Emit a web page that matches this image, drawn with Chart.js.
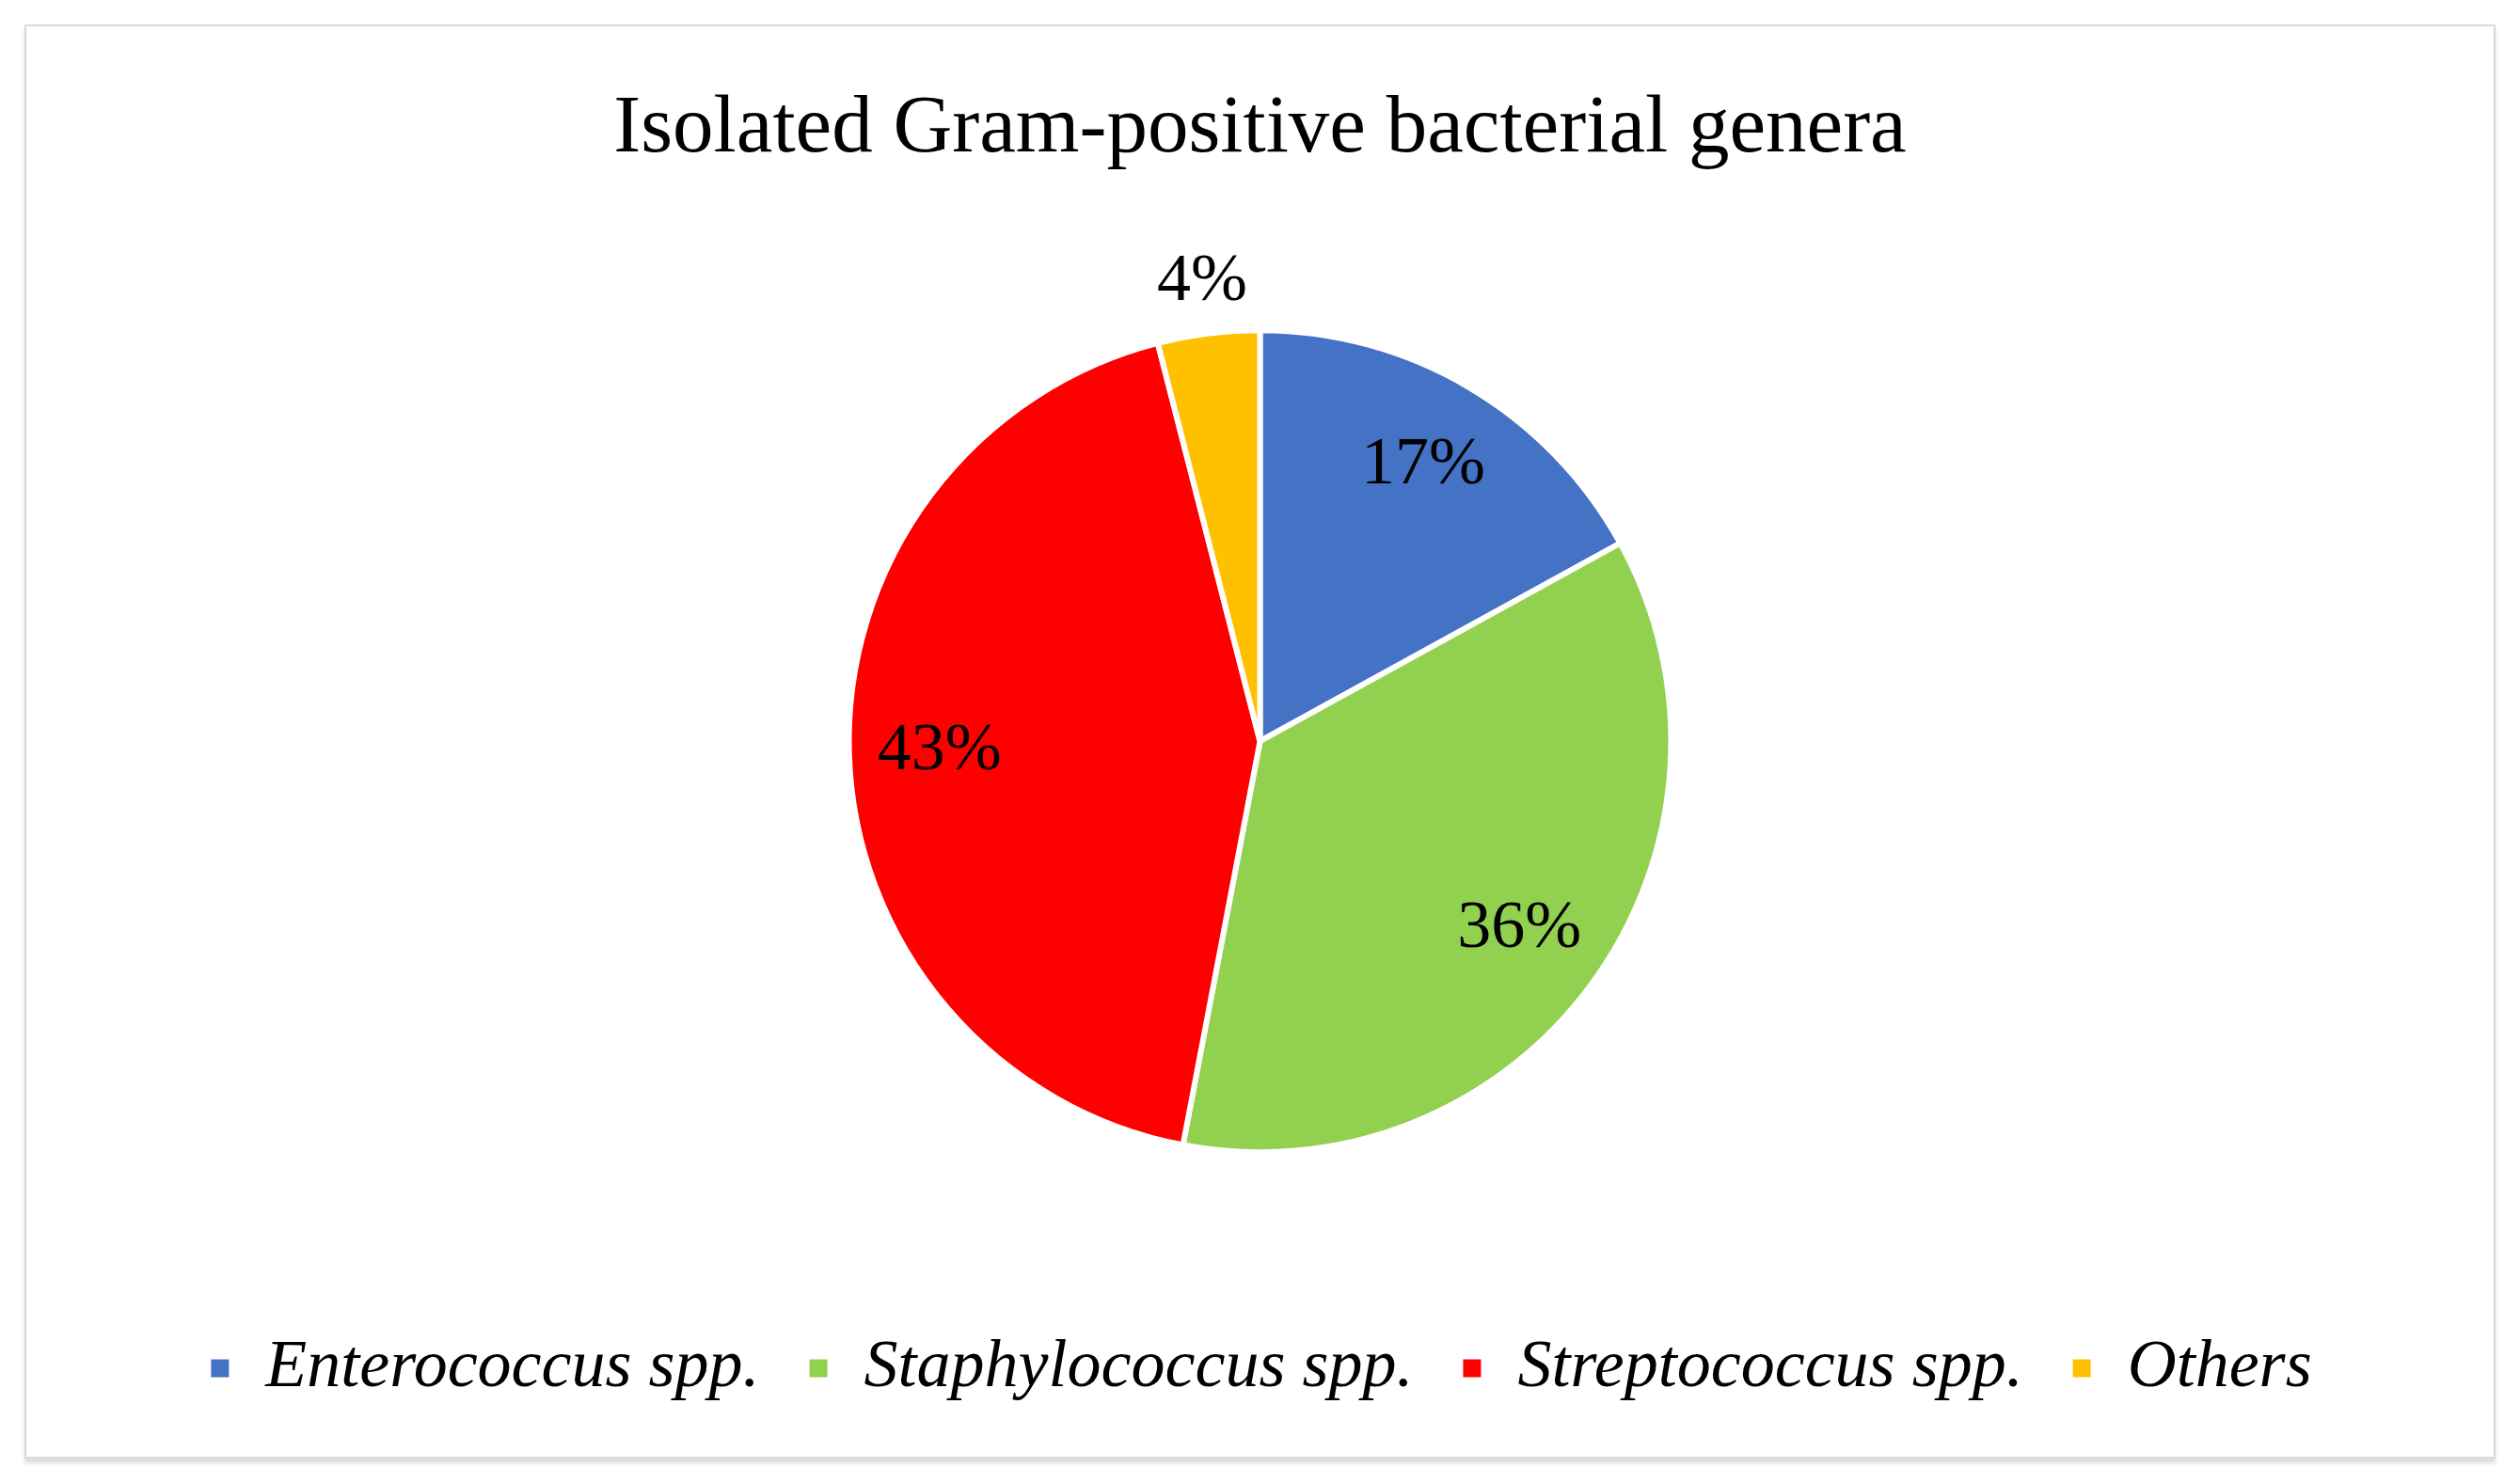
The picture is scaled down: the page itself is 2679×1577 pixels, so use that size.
<!DOCTYPE html>
<html>
<head>
<meta charset="utf-8">
<script src="https://cdn.jsdelivr.net/npm/chart.js@4/dist/chart.umd.min.js"></script>
<style>
  html, body { margin: 0; padding: 0; background: #ffffff; }
  body { width: 2679px; height: 1577px; position: relative; overflow: hidden; }
  #frame {
    position: absolute; left: 26px; top: 26px; width: 2627px; height: 1525px;
    box-sizing: border-box; border: 2px solid #d9d9d9; background: #fff;
    box-shadow: 0 5px 4px rgba(0,0,0,0.14);
  }
  #wrap { position: absolute; left: 0; top: 0; width: 2623px; height: 1521px; }
</style>
</head>
<body>
<div id="frame"><div id="wrap"><canvas id="c"></canvas></div></div>
<script>
const titleText = 'Isolated Gram-positive bacterial genera';
const categories = ['Enterococcus spp.', 'Staphylococcus spp.', 'Streptococcus spp.', 'Others'];
const values = [17, 36, 43, 4];
const colors = ['#4472C4', '#92D050', '#FF0000', '#FFC000'];

const FONT = '"Liberation Serif", "Times New Roman", serif';

const sliceLabels = {
  id: 'sliceLabels',
  afterDatasetsDraw(chart) {
    const ctx = chart.ctx;
    const meta = chart.getDatasetMeta(0);
    ctx.save();
    ctx.font = '72px ' + FONT;
    ctx.fillStyle = '#000';
    ctx.textAlign = 'center';
    ctx.textBaseline = 'middle';
    meta.data.forEach((arc, i) => {
      const p = arc.getProps(['x', 'y', 'startAngle', 'endAngle', 'outerRadius'], true);
      const mid = (p.startAngle + p.endAngle) / 2;
      const f = values[i] < 10 ? 1.125 : 0.78;
      ctx.fillText(values[i] + '%', p.x + Math.cos(mid) * p.outerRadius * f, p.y + Math.sin(mid) * p.outerRadius * f);
    });
    ctx.restore();
  }
};

new Chart(document.getElementById('c'), {
  type: 'pie',
  data: {
    labels: categories,
    datasets: [{
      data: values,
      backgroundColor: colors,
      borderColor: '#ffffff',
      borderWidth: 6,
      radius: 437
    }]
  },
  options: {
    responsive: true,
    maintainAspectRatio: false,
    animation: false,
    devicePixelRatio: 1,
    layout: { padding: { top: 0, bottom: 48, left: 0, right: 0 } },
    plugins: {
      title: {
        display: true,
        text: titleText,
        color: '#000',
        font: { family: FONT, size: 87, weight: 'normal', lineHeight: 1.2 },
        padding: { top: 58, bottom: 17 }
      },
      legend: {
        display: true,
        position: 'bottom',
        labels: {
          color: '#000',
          font: { family: FONT, size: 72, style: 'italic', weight: 'normal' },
          boxWidth: 25,
          boxHeight: 25,
          padding: 50
        }
      },
      tooltip: { enabled: false }
    }
  },
  plugins: [sliceLabels]
});
</script>
</body>
</html>
